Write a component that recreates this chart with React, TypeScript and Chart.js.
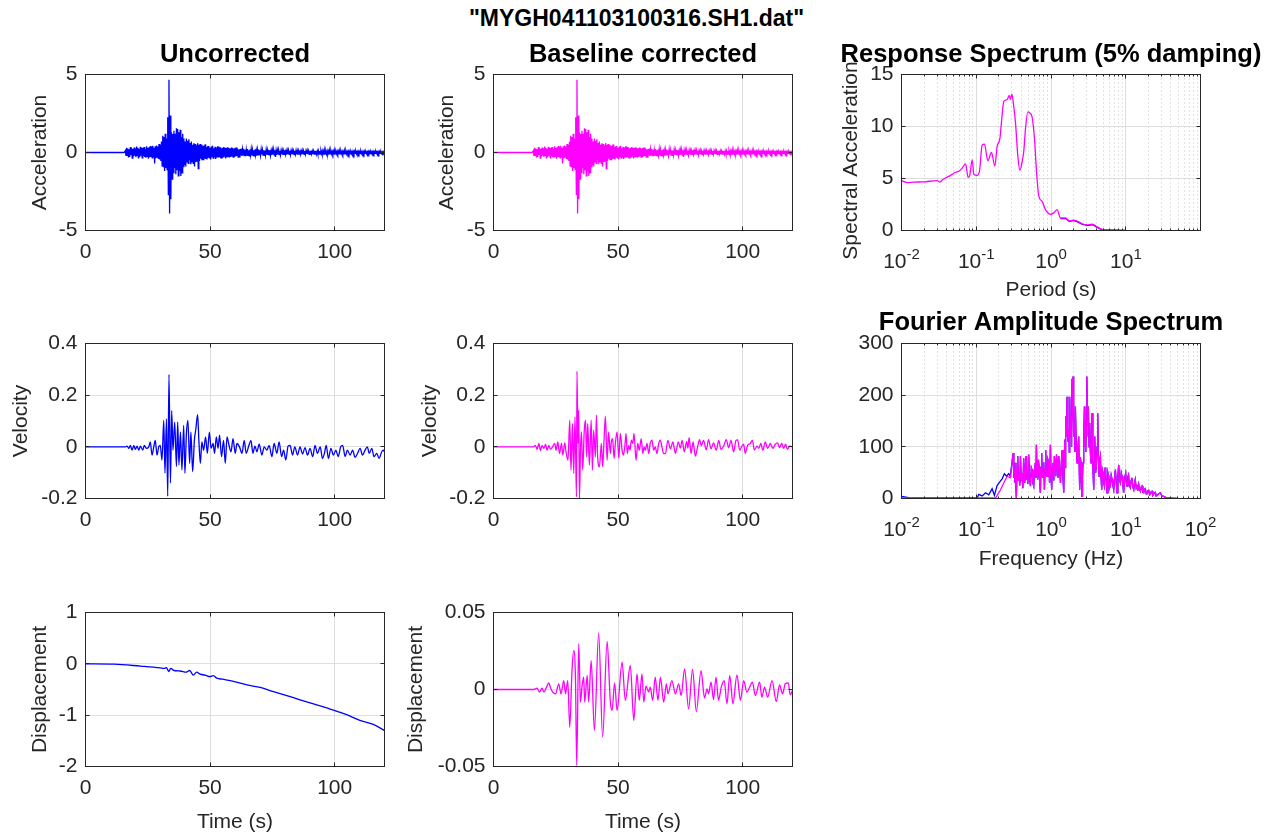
import React, { useEffect, useRef } from "react";
import { Chart, registerables } from "chart.js";

Chart.register(...registerables);

const PAGE_W = 1273;
const PAGE_H = 836;
const FONT = '"Liberation Sans", Arial, Helvetica, sans-serif';
const TICK_FONT = 21;
const LABEL_FONT = 21;
const TITLE_FONT = 25.5;
const MAIN_TITLE_FONT = 23;
const LINE_W = 1.3;
const BLUE = "#0000ff";
const MAGENTA = "#ff00ff";
const AXIS_COLOR = "#262626";
const GRID_COLOR = "#dedede";
const MINOR_GRID_COLOR = "#c4c4c4";

// ---------------- tick values / labels ----------------
const TIME_TICKS = [0, 50, 100];
const TIME_TICK_LABELS = ["0", "50", "100"];
const ACC_TICKS = [-5, 0, 5];
const ACC_TICK_LABELS = ["-5", "0", "5"];
const VEL_TICKS = [-0.2, 0, 0.2, 0.4];
const VEL_TICK_LABELS = ["-0.2", "0", "0.2", "0.4"];
const DISPU_TICKS = [-2, -1, 0, 1];
const DISPU_TICK_LABELS = ["-2", "-1", "0", "1"];
const DISPC_TICKS = [-0.05, 0, 0.05];
const DISPC_TICK_LABELS = ["-0.05", "0", "0.05"];
const RS_Y_TICKS = [0, 5, 10, 15];
const RS_Y_TICK_LABELS = ["0", "5", "10", "15"];
const FAS_Y_TICKS = [0, 100, 200, 300];
const FAS_Y_TICK_LABELS = ["0", "100", "200", "300"];
const LOG_TICKS = [0.01, 0.1, 1, 10, 100];
const LOG_TICK_EXPONENTS = ["-2", "-1", "0", "1", "2"];
const LOG_MINOR_TICKS = [
  0.02, 0.03, 0.04, 0.05, 0.06, 0.07, 0.08, 0.09,
  0.2, 0.3, 0.4, 0.5, 0.6, 0.7, 0.8, 0.9,
  2, 3, 4, 5, 6, 7, 8, 9,
  20, 30, 40, 50, 60, 70, 80, 90,
];

// ---------------- acceleration (uncorrected / corrected overlap visually) ----------------
// strong-motion part, sampled every 0.25 s from 15.5 s
const ACC_A_T0 = 15.5;
const ACC_A_DT = 0.25;
const ACCEL_A = [
  0, 0, 0.12, -0.22, 0.3, -0.18, 0.26, -0.32,
  0.2, -0.28, 0.35, -0.15, 0.28, -0.36, 0.22, -0.25,
  0.32, -0.2, 0.25, -0.3, 0.38, -0.18, 0.3, -0.38,
  0.24, -0.3, 0.36, -0.2, 0.28, -0.34, 0.3, -0.22,
  0.35, -0.28, 0.22, -0.33, 0.4, -0.25, 0.3, -0.4,
  0.33, -0.3, 0.42, -0.28, 0.36, -0.35, 0.43, -0.3,
  0.3, -0.7, 0.4, -0.36, 0.45, -0.3, 0.38, -0.42,
  0.55, -0.45, 0.5, -0.55, 0.7, -0.86, 1.08, -0.9,
  1.0, -1.18, 1.2, -1.0, 0.9, -1.1, 2.26, -2.7,
  4.67, -3.91, 2.37, -3.0, 1.3, -1.7, 1.18, -1.29,
  1.4, -1.0, 1.2, -1.4, 1.55, -1.1, 1.5, -1.5,
  1.3, -1.2, 1.45, -1.5, 1.0, -1.3, 1.2, -0.9,
  0.9, -0.8, 0.7, -0.9, 0.9, -0.6, 0.75, -0.7,
  0.85, -0.5, 0.6, -0.75, 0.7, -0.6, 0.5, -0.7,
  0.6, -0.9, 0.55, -0.6, 0.45, -0.55, 0.6, -1.03,
  0.5, -0.55, 0.54, -0.4, 0.5, -0.5, 0.4, -0.45,
  0.45, -0.38, 0.52, -0.42, 0.35, -0.45, 0.4, -0.3,
  0.42, -0.38, 0.3, -0.45, 0.38, -0.3, 0.43, -0.36,
  0.28, -0.3, 0.36, -0.42, 0.3, -0.32, 0.4, -0.28,
  0.38, -0.3, 0.33, -0.36, 0.25, -0.4, 0.3, -0.28,
  0.35, -0.25, 0.3, -0.38, 0.28, -0.3, 0.34, -0.26,
  0.3, -0.32, 0.26, -0.28, 0.32, -0.25, 0.28, -0.3,
  0.25, -0.28,
];
// coda, sampled every 0.25 s from 60.0 s
const ACC_B_T0 = 60.0;
const ACC_B_DT = 0.25;
const ACCEL_B = [
  0.3, -0.26, 0.32, -0.22, 0.25, -0.3, 0.2, -0.28,
  0.22, -0.18, 0.25, -0.22, 0.2, -0.15, 0.24, -0.2,
  0.18, -0.24, 0.16, -0.2, 0.22, -0.18, 0.15, -0.22,
  0.2, -0.15, 0.22, -0.18, 0.16, -0.2, 0.14, -0.22,
  0.2, -0.16, 0.13, -0.2, 0.18, -0.15, 0.2, -0.14,
  0.15, -0.18, 0.2, -0.12, 0.16, -0.17, 0.14, -0.18,
  0.13, -0.16, 0.18, -0.14, 0.15, -0.12, 0.17, -0.15,
  0.14, -0.18, 0.12, -0.15, 0.16, -0.13, 0.18, -0.16,
  0.14, -0.28, 0.12, -0.15, 0.14, -0.12, 0.16, -0.13,
  0.12, -0.15, 0.14, -0.11, 0.13, -0.15, 0.11, -0.12,
  0.15, -0.12, 0.11, -0.14, 0.13, -0.1, 0.14, -0.12,
  0.11, -0.14, 0.12, -0.1, 0.13, -0.12, 0.1, -0.13,
  0.12, -0.11, 0.13, -0.12, 0.1, -0.13, 0.11, -0.1,
  0.13, -0.11, 0.1, -0.12, 0.12, -0.1, 0.11, -0.12,
  0.1, -0.12, 0.11, -0.09, 0.12, -0.11, 0.1, -0.12,
  0.11, -0.1, 0.12, -0.09, 0.1, -0.11, 0.09, -0.1,
  0.12, -0.1, 0.09, -0.11, 0.1, -0.09, 0.11, -0.1,
  0.09, -0.11, 0.1, -0.08, 0.11, -0.1, 0.09, -0.1,
  0.1, -0.09, 0.08, -0.1, 0.09, -0.11, 0.08, -0.09,
  0.09, -0.08, 0.1, -0.09, 0.07, -0.09, 0.08, -0.1,
  0.08, -0.09, 0.07, -0.08, 0.09, -0.07, 0.08, -0.09,
  0.07, -0.08, 0.09, -0.07, 0.08, -0.09, 0.06, -0.08,
  0.08, -0.07, 0.09, -0.08, 0.07, -0.06, 0.08, -0.08,
  0.07, -0.08, 0.06, -0.07, 0.08, -0.07, 0.06, -0.08,
  0.08, -0.06, 0.07, -0.08, 0.06, -0.07, 0.07, -0.06,
  0.06, -0.07, 0.08, -0.06, 0.07, -0.06, 0.06, -0.07,
  0.07, -0.06, 0.05, -0.07, 0.06, -0.06, 0.07, -0.05,
  0.06, -0.07, 0.05, -0.06, 0.07, -0.05, 0.06, -0.06,
  0.05, -0.06, 0.07, -0.05, 0.06, -0.06, 0.05, -0.06,
  0.06, -0.05, 0.05, -0.06, 0.05, -0.04, 0.05, -0.04,
  0.02,
];

// ---------------- uncorrected velocity ----------------
const VELU_T = [
  0, 16, 16.7, 17.4, 18.0, 18.7, 19.4, 20.0, 20.7, 21.4, 22.0, 23.0, 23.6, 24.4, 25.4, 26.0,
  26.7, 27.4, 28.0, 28.7, 29.4, 30.0, 30.7, 31.4, 31.9, 32.5, 33.0, 33.5, 34.1, 34.6, 35.1,
  35.8, 36.5, 37.0, 37.5, 38.1, 38.7, 39.4, 39.9, 40.5, 41.1, 41.8, 42.3, 43.0, 43.7, 44.3,
  45.0, 45.5, 46.1, 46.7, 47.4, 48.2, 48.9, 49.7, 50.4, 51.2, 51.8, 52.5, 53.2, 53.8, 54.6,
  55.4, 56.1, 56.8, 57.6, 58.4, 59.2, 60.1, 60.8, 61.8, 62.8, 63.7, 64.5, 65.6, 66.4, 67.2,
  68.0, 68.8, 69.7, 70.8, 71.7, 72.8, 73.7, 74.8, 75.7, 76.8, 77.7, 78.7, 79.5, 80.4, 81.3,
  82.1, 83.1, 84.0, 85.1, 86.1, 87.1, 88.1, 89.1, 90.1, 91.2, 92.1, 93.1, 94.2, 95.1, 95.9,
  96.6, 97.5, 98.5, 99.5, 100.5, 101.4, 102.4, 103.2, 104.2, 105.1, 106.2, 107.2, 108.2,
  109.2, 110.2, 111.2, 112.2, 113.1, 113.9, 114.9, 115.8, 116.9, 117.8, 118.9, 119.5, 120,
];
const VELU_V = [
  0, 0, 0.003, -0.006, 0.006, -0.013, 0.006, -0.01, 0.003, -0.013, 0.003, -0.013, 0.006, -0.006, 0.0, 0.019,
  -0.032, 0.0, 0.025, -0.032, 0.0, 0.006, -0.051, 0.102, -0.102, 0.108, -0.191, 0.28, -0.14, 0.14, -0.013,
  0.096, -0.076, 0.096, -0.07, 0.057, -0.089, 0.083, -0.102, 0.051, 0.102, -0.064, 0.057, -0.096, 0.025, 0.07,
  0.125, 0.025, -0.064, 0.019, -0.013, 0.038, -0.025, 0.057, -0.006, 0.013, -0.025, 0.038, -0.006, 0.045, -0.038,
  0.025, -0.064, 0.038, 0.006, -0.019, 0.032, -0.025, 0.013, 0.0, -0.025, 0.025, -0.025, 0.006, 0.025, -0.025,
  0.003, -0.019, 0.01, -0.032, 0.0, -0.013, 0.006, -0.038, 0.013, -0.025, 0.019, -0.038, -0.013, -0.051, 0.003,
  0.006, -0.032, 0.0, -0.032, 0.0, -0.028, -0.003, -0.032, -0.006, -0.038, 0.006, -0.025, 0.0, -0.045, -0.025,
  0.006, -0.045, -0.006, -0.032, -0.013, -0.038, 0.0, 0.006, -0.038, -0.013, -0.032, -0.013, -0.041,
  -0.025, -0.006, -0.032, -0.013, 0.0, -0.025, -0.006, -0.038, -0.025, -0.045, -0.019, -0.013, -0.02,
];

// ---------------- baseline-corrected velocity ----------------
const VELC_T = [
  0, 16, 16.84, 17.5, 18.18, 18.85, 19.5, 20.2, 20.9, 21.5, 22.2, 22.9, 23.5, 24.6, 25.1, 25.8,
  26.5, 27.3, 27.8, 28.6, 29.1, 29.9, 30.6, 31.1, 31.7, 32.2, 32.7, 33.3, 33.5, 33.9, 34.2,
  34.5, 34.9, 35.3, 35.8, 36.4, 36.9, 37.4, 37.8, 38.5, 39.2, 39.7, 40.2, 40.9, 41.3, 41.8,
  42.5, 43.3, 43.8, 44.4, 44.9, 45.6, 46.2, 46.9, 47.3, 47.8, 48.4, 48.9, 49.6, 50.3, 50.9,
  51.6, 52.1, 52.7, 53.2, 53.7, 54.3, 54.8, 55.3, 55.9, 56.4, 57.2, 57.9, 58.5, 59.3, 59.9,
  60.4, 60.9, 61.6, 62.3, 62.9, 63.6, 64.3, 64.9, 65.6, 66.3, 66.9, 67.6, 68.3, 69.0, 70.0,
  71.0, 72.0, 73.0, 74.2, 75.0, 75.7, 76.6, 77.5, 78.0, 78.5, 79.3, 80.1, 81.0, 81.9, 82.7,
  83.4, 84.3, 85.4, 86.3, 87.3, 88.3, 89.4, 90.4, 91.3, 92.4, 93.4, 94.4, 95.3, 96.4, 97.3,
  98.0, 98.8, 99.7, 100.4, 101.0, 102.0, 103.0, 103.9, 104.7, 105.7, 106.5, 107.3, 108.1,
  109.1, 110.0, 111.1, 112.1, 113.1, 114.0, 114.8, 115.7, 116.4, 117.2, 118.0, 118.8, 119.8, 120,
];
const VELC_V = [
  0, 0, 0.006, -0.01, 0.013, -0.015, 0.006, -0.006, 0.01, -0.013, 0.006, -0.01, -0.003, 0.013, -0.013, 0.019,
  -0.026, 0.013, -0.032, 0.015, -0.019, -0.052, 0.103, -0.09, 0.09, -0.103, 0.116, -0.194, 0.293, 0.013, 0.142,
  -0.2, -0.013, 0.058, -0.09, 0.058, 0.103, -0.039, 0.09, -0.071, 0.103, -0.09, 0.065, -0.039, 0.123, -0.039,
  -0.077, 0.013, -0.077, 0.032, 0.119, -0.052, 0.058, -0.026, 0.019, 0.032, -0.045, 0.013, 0.058, -0.045, 0.052,
  -0.013, -0.032, 0.0, 0.052, -0.026, 0.006, -0.013, 0.026, 0.013, 0.052, -0.052, 0.013, -0.013, 0.032, -0.026,
  0.0, -0.013, 0.013, -0.026, 0.013, 0.026, -0.013, 0.0, -0.026, 0.013, 0.026, 0.0, -0.026, -0.025, 0.025,
  -0.008, 0.019, -0.025, 0.019, -0.005, 0.025, -0.019, 0.02, -0.005, 0.036, -0.025, 0.019, -0.036, 0.0, 0.028,
  0.005, 0.025, -0.012, 0.028, -0.008, 0.015, -0.013, 0.025, -0.01, 0.003, 0.028, -0.004, 0.025, -0.019, 0.025,
  0.027, -0.013, 0.003, 0.01, -0.025, 0.006, 0.012, 0.025, -0.013, 0.003, -0.006, 0.013, -0.013,
  0.019, -0.006, 0.013, -0.006, 0.01, 0.015, -0.003, 0.013, -0.006, 0.01, -0.01, 0.003, 0.0, 0.0,
];

// ---------------- uncorrected displacement ----------------
const DISPU_T = [
  0, 11.4, 22, 30, 31.5, 32.5, 33.4, 34.2, 35.5, 38, 40.5, 41.8, 43.3, 44.6, 46, 48, 50, 51.3,
  52.7, 55, 59.4, 64.8, 70.1, 75.4, 80.8, 86.1, 91.5, 96.8, 100.1, 104.8, 110.1, 115.5, 120,
];
const DISPU_V = [
  0, -0.006, -0.045, -0.08, -0.09, -0.075, -0.15, -0.09, -0.13, -0.14, -0.16, -0.13, -0.22, -0.16, -0.2, -0.22, -0.25, -0.23,
  -0.28, -0.3, -0.34, -0.41, -0.46, -0.54, -0.62, -0.7, -0.78, -0.86, -0.91, -0.99, -1.1, -1.18, -1.3,
];

// ---------------- baseline-corrected displacement ----------------
const DISPC_T = [
  0, 16, 17.5, 18.4, 19.5, 20.2, 21.1, 22.2, 22.9, 23.8, 24.9, 26.2, 27.1, 28.2, 28.9, 29.8,
  30.6, 31.5, 32.2, 32.9, 33.4, 34.2, 34.9, 35.5, 36.2, 36.6, 37.6, 38.2, 39.2, 40.5, 42.2,
  43.8, 45.6, 46.9, 47.6, 48.6, 49.6, 51.6, 52.9, 54.9, 56.3, 57.6, 58.5, 59.6, 60.3, 61.2,
  62.3, 62.9, 63.9, 64.9, 66.0, 67.0, 68.3, 69.4, 70.0, 71.6, 73.0, 74.3, 75.3, 76.7, 78.3,
  79.9, 81.4, 83.3, 84.7, 85.7, 86.3, 87.3, 88.3, 89.3, 90.3, 91.4, 92.6, 93.7, 94.8, 96.1,
  97.7, 99.1, 100.4, 101.7, 102.8, 103.9, 105.1, 106.8, 107.7, 108.8, 110.0, 111.8, 113.5,
  114.8, 116.0, 117.1, 118.3, 119.1, 120,
];
const DISPC_V = [
  0, 0, 0.0009, -0.0017, 0.0009, -0.0017, 0.0009, 0.0043, 0.0009, -0.0017, -0.0028, 0.0037, -0.0028, 0.0058, -0.0028, 0.0058,
  -0.0245, 0.0123, 0.0253, 0.0069, -0.0494, 0.0297, -0.0082, 0.0017, 0.008, -0.0082, 0.0091, -0.0082, 0.0188, -0.0266, 0.0368,
  -0.031, 0.0312, -0.0082, -0.0136, 0.0043, -0.0136, 0.0177, -0.0071, 0.0156, -0.0201, 0.0102, -0.0071, 0.0102, -0.0082, 0.0022,
  -0.0017, 0.0015, -0.0071, 0.008, -0.0071, 0.008, -0.0082, 0.0037, -0.0028, 0.0058, -0.0028, 0.0037, -0.0039, 0.0134, -0.0126,
  0.013, -0.0143, 0.0123, -0.0056, 0.0004, -0.0028, 0.0048, -0.0065, 0.008, -0.0071, 0.0015, 0.0058, -0.0093, 0.0091, -0.0093,
  0.0095, -0.0071, 0.0058, -0.0017, 0.0015, 0.0048, -0.0039, 0.0048, -0.005, 0.0015, -0.005, 0.0058, -0.0078,
  0.003, -0.0028, 0.0037, 0.0043, -0.0035, -0.0006,
];

// ---------------- response spectrum (5% damping) ----------------
const RS_PERIOD = [
  0.01, 0.0119, 0.0146, 0.0199, 0.03, 0.0325, 0.035, 0.0387, 0.043, 0.0475, 0.0527, 0.0583, 0.0647,
  0.0718, 0.0778, 0.0818, 0.0881, 0.0927, 0.1028, 0.1104, 0.1197, 0.1288, 0.1426, 0.1596, 0.177,
  0.19, 0.2065, 0.215, 0.2333, 0.259, 0.275, 0.286, 0.2985, 0.311, 0.334, 0.359, 0.382, 0.41, 0.431,
  0.455, 0.489, 0.519, 0.558, 0.6, 0.638, 0.685, 0.76, 0.842, 0.982, 1.087, 1.205, 1.336, 1.56,
  1.78, 1.97, 2.23, 2.6, 3.03, 3.54, 4.13, 4.82, 6.22, 9.89,
];
const RS_SA = [
  4.8, 4.6, 4.65, 4.68, 4.8, 4.65, 4.85, 5.05, 5.2, 5.4, 5.6, 5.7, 6.0,
  6.4, 5.1, 5.3, 6.8, 5.4, 5.3, 5.7, 8.2, 8.3, 6.7, 7.5, 6.2,
  8.1, 8.8, 10.1, 12.4, 12.6, 13.0, 12.6, 13.1, 12.4, 10.4, 7.2, 5.8, 6.6, 7.6,
  9.8, 11.4, 11.3, 10.9, 8.8, 5.7, 3.3, 2.8, 2.0, 1.55, 1.7, 2.0, 1.2, 1.2,
  0.9, 1.0, 0.9, 0.65, 0.55, 0.6, 0.35, 0.1, 0.05, 0.0,
];
const RS_UNCORR_PERIOD = [1.34, 1.56, 1.78, 1.97, 2.23, 2.6, 3.03, 3.54, 4.13, 4.82, 6.22, 9.89];
const RS_UNCORR_SA = [1.15, 1.15, 0.88, 0.95, 0.85, 0.6, 0.5, 0.55, 0.3, 0.07, 0.03, 0.0];

// ---------------- Fourier amplitude spectrum ----------------
const FAS_FREQ = [
  0.01, 0.103, 0.181, 0.211, 0.233, 0.259, 0.286,
  0.311, 0.318, 0.324, 0.329, 0.334, 0.339, 0.344, 0.351, 0.359, 0.366, 0.374, 0.382, 0.39, 0.4,
  0.41, 0.42, 0.431, 0.438, 0.446, 0.455, 0.464, 0.471, 0.479, 0.49, 0.503, 0.517, 0.531, 0.545,
  0.558, 0.572, 0.587, 0.602, 0.618, 0.628, 0.638, 0.65, 0.665, 0.678, 0.692, 0.706, 0.721, 0.736,
  0.751, 0.767, 0.783, 0.8, 0.817, 0.833, 0.85, 0.867, 0.885, 0.91, 0.933, 0.957, 0.982, 1.0,
  1.02, 1.045, 1.07, 1.09, 1.11, 1.135, 1.16, 1.185, 1.21, 1.24, 1.27, 1.305, 1.34, 1.375, 1.41,
  1.445, 1.48, 1.53, 1.55, 1.57, 1.6, 1.64, 1.68, 1.73, 1.755, 1.78, 1.82, 1.86, 1.885, 1.91,
  1.94, 1.97, 2.01, 2.06, 2.09, 2.12, 2.17, 2.23, 2.29, 2.35, 2.385, 2.42, 2.47, 2.52, 2.56, 2.6,
  2.64, 2.68, 2.74, 2.8, 2.84, 2.88, 2.92, 2.97, 3.0, 3.03, 3.1, 3.16, 3.23, 3.3, 3.36, 3.43,
  3.48, 3.54, 3.63, 3.73, 3.79, 3.85, 3.95, 4.04, 4.13, 4.22, 4.31, 4.4, 4.49, 4.58, 4.67, 4.77,
  4.87, 4.97, 5.07, 5.18, 5.29, 5.4, 5.51, 5.62, 5.77, 5.92, 6.07, 6.22, 6.39, 6.56, 6.73, 6.91,
  7.09, 7.27, 7.46, 7.65, 7.85, 8.05, 8.26, 8.47, 8.7, 8.92, 9.15, 9.38, 9.68, 9.98, 10.2, 10.4,
  10.65, 10.9, 11.2, 11.5, 11.8, 12.1, 12.45, 12.8, 13.1, 13.4, 13.8, 14.2, 14.55, 14.9, 15.3,
  15.7, 16.1, 16.5, 16.95, 17.4, 17.85, 18.3, 18.75, 19.2, 19.75, 20.3, 20.8, 21.3, 21.9, 22.5,
  23.0, 23.6, 24.2, 24.9, 25.5, 26.2, 27.5, 29.0, 30.5, 32.1, 35.6, 48.5,
];
const FAS_AMP = [
  1, 1, 1, 17, 30, 43, 40,
  88, 40, 56, 30, 69, 20, 1, 60, 82, 35, 49, 25, 82, 38,
  43, 20, 78, 40, 30, 65, 82, 36, 49, 28, 85, 40, 24, 60,
  56, 30, 24, 55, 69, 40, 104, 50, 37, 75, 62, 30, 11, 60,
  88, 40, 49, 70, 17, 55, 94, 45, 43, 75, 69, 30, 104, 50,
  17, 55, 69, 35, 82, 60, 43, 85, 69, 40, 82, 55, 30, 70, 94,
  40, 11, 114, 60, 159, 120, 197, 110, 133, 90, 197, 120, 159, 100, 232,
  150, 236, 120, 146, 90, 178, 110, 69, 100, 120, 60, 17, 80, 69, 30, 4,
  40, 69, 120, 178, 100, 133, 90, 152, 120, 236, 140, 178, 100, 146, 90, 69,
  110, 165, 60, 17, 70, 120, 50, 62, 100, 165, 80, 43, 75, 82, 40, 17,
  55, 49, 30, 24, 60, 49, 30, 11, 50, 43, 20, 24, 45, 37, 25, 17,
  40, 56, 30, 11, 45, 65, 35, 30, 50, 43, 25, 11, 40, 49, 30, 24,
  42, 46, 25, 21, 35, 40, 22, 17, 30, 37, 20, 24, 15, 27, 18,
  14, 22, 24, 12, 11, 18, 19, 9, 10, 15, 16, 7, 8, 13, 14,
  6, 8, 11, 12, 5, 6, 9, 11, 5, 4, 1, 0,
];
// uncorrected spectrum where it departs from the corrected one (low frequencies)
const FAS_UNCORR_LOW_FREQ = [
  0.01, 0.013, 0.103, 0.108, 0.12, 0.133, 0.147, 0.163, 0.175, 0.19, 0.204, 0.222, 0.238, 0.254, 0.272, 0.286,
];
const FAS_UNCORR_LOW_AMP = [4, 1, 1, 8, 5, 11, 7, 19, 6, 25, 31, 38, 48, 43, 48, 43];

// ---------------- helpers ----------------
const pairs = (xs: number[], ys: number[]) => xs.map((x, i) => ({ x, y: ys[i] }));
const uniformSeries = (t0: number, dt: number, ys: number[]) => ys.map((y, i) => ({ x: t0 + i * dt, y }));

const accelPoints = [
  { x: 0, y: 0 },
  ...uniformSeries(ACC_A_T0, ACC_A_DT, ACCEL_A),
  ...uniformSeries(ACC_B_T0, ACC_B_DT, ACCEL_B),
];
const fasCorrected = pairs(FAS_FREQ, FAS_AMP);
const fasUncorrected = [
  ...pairs(FAS_UNCORR_LOW_FREQ, FAS_UNCORR_LOW_AMP),
  ...fasCorrected.filter((p) => p.x > 0.3),
];

type PanelSpec = {
  id: string;
  area: [number, number, number, number];
  xLog?: boolean;
  xMin: number;
  xMax: number;
  yMin: number;
  yMax: number;
  xTicks: number[];
  xTickLabels: string[];
  yTicks: number[];
  yTickLabels: string[];
  xMinor?: number[];
  title?: string;
  titleY?: number;
  xTitle?: string;
  xTitleY?: number;
  yTitle?: string;
  yTitleX?: number;
  yTitleDY?: number;
  datasets: any[];
};

const lineDs = (data: any[], color: string, smooth: boolean) => ({
  data,
  borderColor: color,
  backgroundColor: color,
  borderWidth: LINE_W,
  pointRadius: 0,
  fill: false,
  tension: 0,
  cubicInterpolationMode: smooth ? "monotone" : "default",
});

const COL = [
  [85.5, 384.5],
  [493.5, 792.5],
  [901.5, 1200.5],
];
const ROW = [
  [74.5, 230.5],
  [343.5, 498.5],
  [612.5, 766.5],
];
const area = (c: number, r: number): [number, number, number, number] => [COL[c][0], ROW[r][0], COL[c][1], ROW[r][1]];

const timeAxis = { xMin: 0, xMax: 120, xTicks: TIME_TICKS, xTickLabels: TIME_TICK_LABELS };

// first dataset is drawn on top in Chart.js
const PANELS: PanelSpec[] = [
  {
    id: "accU", area: area(0, 0), ...timeAxis, yMin: -5, yMax: 5, yTicks: ACC_TICKS, yTickLabels: ACC_TICK_LABELS,
    title: "Uncorrected", titleY: 55, yTitle: "Acceleration", yTitleX: 40,
    datasets: [lineDs(accelPoints, BLUE, false)],
  },
  {
    id: "accC", area: area(1, 0), ...timeAxis, yMin: -5, yMax: 5, yTicks: ACC_TICKS, yTickLabels: ACC_TICK_LABELS,
    title: "Baseline corrected", titleY: 55, yTitle: "Acceleration", yTitleX: 447,
    datasets: [lineDs(accelPoints, MAGENTA, false)],
  },
  {
    id: "rs", area: area(2, 0), xLog: true, xMin: 0.01, xMax: 99.5, yMin: 0, yMax: 15,
    xTicks: LOG_TICKS, xTickLabels: LOG_TICK_EXPONENTS, xMinor: LOG_MINOR_TICKS,
    yTicks: RS_Y_TICKS, yTickLabels: RS_Y_TICK_LABELS,
    title: "Response Spectrum (5% damping)", titleY: 55, xTitle: "Period (s)", xTitleY: 290,
    yTitle: "Spectral Acceleration", yTitleX: 851, yTitleDY: 8,
    datasets: [
      lineDs(pairs(RS_PERIOD, RS_SA), MAGENTA, true),
      lineDs(pairs(RS_UNCORR_PERIOD, RS_UNCORR_SA), BLUE, true),
    ],
  },
  {
    id: "velU", area: area(0, 1), ...timeAxis, yMin: -0.2, yMax: 0.4, yTicks: VEL_TICKS, yTickLabels: VEL_TICK_LABELS,
    yTitle: "Velocity", yTitleX: 21,
    datasets: [lineDs(pairs(VELU_T, VELU_V), BLUE, true)],
  },
  {
    id: "velC", area: area(1, 1), ...timeAxis, yMin: -0.2, yMax: 0.4, yTicks: VEL_TICKS, yTickLabels: VEL_TICK_LABELS,
    yTitle: "Velocity", yTitleX: 430,
    datasets: [lineDs(pairs(VELC_T, VELC_V), MAGENTA, true)],
  },
  {
    id: "fas", area: area(2, 1), xLog: true, xMin: 0.01, xMax: 100, yMin: 0, yMax: 300,
    xTicks: LOG_TICKS, xTickLabels: LOG_TICK_EXPONENTS, xMinor: LOG_MINOR_TICKS,
    yTicks: FAS_Y_TICKS, yTickLabels: FAS_Y_TICK_LABELS,
    title: "Fourier Amplitude Spectrum", titleY: 323, xTitle: "Frequency (Hz)", xTitleY: 559,
    datasets: [lineDs(fasCorrected, MAGENTA, false), lineDs(fasUncorrected, BLUE, false)],
  },
  {
    id: "dispU", area: area(0, 2), ...timeAxis, yMin: -2, yMax: 1, yTicks: DISPU_TICKS, yTickLabels: DISPU_TICK_LABELS,
    xTitle: "Time (s)", xTitleY: 822, yTitle: "Displacement", yTitleX: 40,
    datasets: [lineDs(pairs(DISPU_T, DISPU_V), BLUE, true)],
  },
  {
    id: "dispC", area: area(1, 2), ...timeAxis, yMin: -0.05, yMax: 0.05, yTicks: DISPC_TICKS, yTickLabels: DISPC_TICK_LABELS,
    xTitle: "Time (s)", xTitleY: 822, yTitle: "Displacement", yTitleX: 416,
    datasets: [lineDs(pairs(DISPC_T, DISPC_V), MAGENTA, true)],
  },
];

const crisp = (v: number) => Math.round(v - 0.5) + 0.5;
const inRange = (v: number, lo: number, hi: number) => {
  const eps = (hi - lo) * 1e-9;
  return v >= lo - eps && v <= hi + eps;
};

function makeAxesPlugin(spec: PanelSpec) {
  return {
    id: "matlabAxes",
    beforeDatasetsDraw(chart: any) {
      const { ctx, chartArea: a } = chart;
      const xs = chart.scales.x;
      const ys = chart.scales.y;
      ctx.save();
      ctx.lineWidth = 1;
      if (spec.xMinor) {
        ctx.strokeStyle = MINOR_GRID_COLOR;
        ctx.setLineDash([1, 3]);
        for (const v of spec.xMinor) {
          if (v <= spec.xMin || v >= spec.xMax) continue;
          const px = crisp(xs.getPixelForValue(v));
          ctx.beginPath();
          ctx.moveTo(px, a.top);
          ctx.lineTo(px, a.bottom);
          ctx.stroke();
        }
        ctx.setLineDash([]);
      }
      ctx.strokeStyle = GRID_COLOR;
      for (const v of spec.xTicks) {
        if (v <= spec.xMin || v >= spec.xMax) continue;
        const px = crisp(xs.getPixelForValue(v));
        ctx.beginPath();
        ctx.moveTo(px, a.top);
        ctx.lineTo(px, a.bottom);
        ctx.stroke();
      }
      for (const v of spec.yTicks) {
        if (v <= spec.yMin || v >= spec.yMax) continue;
        const py = crisp(ys.getPixelForValue(v));
        ctx.beginPath();
        ctx.moveTo(a.left, py);
        ctx.lineTo(a.right, py);
        ctx.stroke();
      }
      ctx.restore();
    },
    afterDatasetsDraw(chart: any) {
      const { ctx, chartArea: a } = chart;
      const xs = chart.scales.x;
      const ys = chart.scales.y;
      ctx.save();
      ctx.lineWidth = 1;
      ctx.strokeStyle = AXIS_COLOR;
      ctx.strokeRect(a.left, a.top, a.right - a.left, a.bottom - a.top);
      const major = 4;
      const minor = 2;
      const xTick = (v: number, len: number) => {
        const px = crisp(xs.getPixelForValue(v));
        ctx.beginPath();
        ctx.moveTo(px, a.bottom);
        ctx.lineTo(px, a.bottom - len);
        ctx.moveTo(px, a.top);
        ctx.lineTo(px, a.top + len);
        ctx.stroke();
      };
      spec.xTicks.forEach((v) => inRange(v, spec.xMin, spec.xMax) && xTick(v, major));
      (spec.xMinor || []).forEach((v) => inRange(v, spec.xMin, spec.xMax) && xTick(v, minor));
      spec.yTicks.forEach((v) => {
        if (!inRange(v, spec.yMin, spec.yMax)) return;
        const py = crisp(ys.getPixelForValue(v));
        ctx.beginPath();
        ctx.moveTo(a.left, py);
        ctx.lineTo(a.left + major, py);
        ctx.moveTo(a.right, py);
        ctx.lineTo(a.right - major, py);
        ctx.stroke();
      });

      // tick labels
      ctx.fillStyle = AXIS_COLOR;
      ctx.font = `${TICK_FONT}px ${FONT}`;
      ctx.textBaseline = "middle";
      const expFont = Math.round(TICK_FONT * 0.7);
      spec.xTicks.forEach((v, i) => {
        if (!inRange(v, spec.xMin, spec.xMax)) return;
        const px = xs.getPixelForValue(v);
        if (spec.xLog) {
          const base = "10";
          const exp = spec.xTickLabels[i];
          ctx.font = `${TICK_FONT}px ${FONT}`;
          const wb = ctx.measureText(base).width;
          ctx.font = `${expFont}px ${FONT}`;
          const we = ctx.measureText(exp).width;
          const x0 = px - (wb + we) / 2;
          ctx.textAlign = "left";
          ctx.font = `${TICK_FONT}px ${FONT}`;
          ctx.fillText(base, x0, a.bottom + 32);
          ctx.font = `${expFont}px ${FONT}`;
          ctx.fillText(exp, x0 + wb, a.bottom + 24);
        } else {
          ctx.textAlign = "center";
          ctx.fillText(spec.xTickLabels[i], px, a.bottom + 22);
        }
      });
      ctx.font = `${TICK_FONT}px ${FONT}`;
      ctx.textAlign = "right";
      spec.yTicks.forEach((v, i) => {
        if (!inRange(v, spec.yMin, spec.yMax)) return;
        ctx.fillText(spec.yTickLabels[i], a.left - 8, ys.getPixelForValue(v));
      });

      // axis titles
      ctx.font = `${LABEL_FONT}px ${FONT}`;
      if (spec.xTitle) {
        ctx.textAlign = "center";
        ctx.fillText(spec.xTitle, (a.left + a.right) / 2, spec.xTitleY);
      }
      if (spec.yTitle) {
        ctx.save();
        ctx.translate(spec.yTitleX, (a.top + a.bottom) / 2 + (spec.yTitleDY || 0));
        ctx.rotate(-Math.PI / 2);
        ctx.textAlign = "center";
        ctx.fillText(spec.yTitle, 0, 0);
        ctx.restore();
      }
      if (spec.title) {
        ctx.fillStyle = "#000000";
        ctx.font = `bold ${TITLE_FONT}px ${FONT}`;
        ctx.textAlign = "center";
        ctx.fillText(spec.title, (a.left + a.right) / 2, spec.titleY);
      }
      ctx.restore();
    },
  };
}

function Panel({ spec }: { spec: PanelSpec }) {
  const ref = useRef<HTMLCanvasElement>(null);
  useEffect(() => {
    const canvas = ref.current;
    if (!canvas) return;
    const [l, t, r, b] = spec.area;
    const chart = new Chart(canvas, {
      type: "line",
      data: { datasets: spec.datasets },
      options: {
        responsive: false,
        animation: false,
        devicePixelRatio: 1,
        events: [],
        layout: { autoPadding: false, padding: { left: l, top: t, right: PAGE_W - r, bottom: PAGE_H - b } },
        plugins: { legend: { display: false }, tooltip: { enabled: false }, title: { display: false } },
        scales: {
          x: { type: spec.xLog ? "logarithmic" : "linear", min: spec.xMin, max: spec.xMax, display: false },
          y: { type: "linear", min: spec.yMin, max: spec.yMax, display: false },
        },
      } as any,
      plugins: [makeAxesPlugin(spec)],
    });
    return () => chart.destroy();
  }, [spec]);
  return (
    <canvas
      ref={ref}
      width={PAGE_W}
      height={PAGE_H}
      style={{ position: "absolute", left: 0, top: 0, width: PAGE_W, height: PAGE_H }}
    />
  );
}

export default function App() {
  return (
    <div
      style={{
        position: "fixed",
        left: 0,
        top: 0,
        width: PAGE_W,
        height: PAGE_H,
        overflow: "hidden",
        background: "#ffffff",
      }}
    >
      <div
        style={{
          position: "absolute",
          left: 0,
          top: 5,
          width: PAGE_W,
          textAlign: "center",
          fontFamily: FONT,
          fontWeight: "bold",
          fontSize: MAIN_TITLE_FONT,
          lineHeight: "26px",
          color: "#000000",
        }}
      >
        "MYGH041103100316.SH1.dat"
      </div>
      {PANELS.map((p) => (
        <Panel key={p.id} spec={p} />
      ))}
    </div>
  );
}
